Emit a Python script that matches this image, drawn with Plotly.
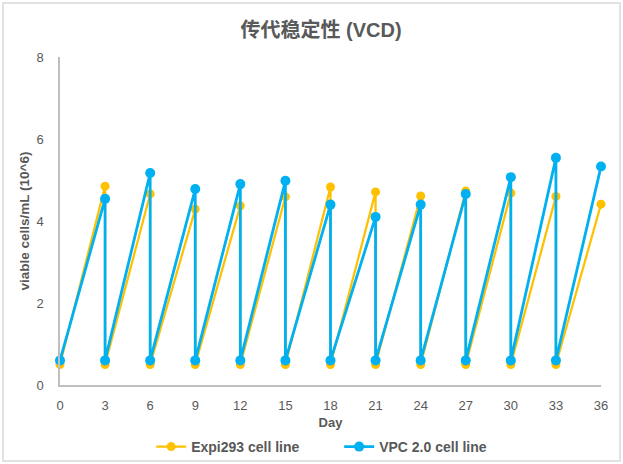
import plotly.graph_objects as go

days = [0, 3, 3, 6, 6, 9, 9, 12, 12, 15, 15, 18, 18, 21, 21, 24, 24, 27, 27, 30, 30, 33, 33, 36]
expi293 = [0.5, 4.85, 0.5, 4.66, 0.5, 4.29, 0.5, 4.37, 0.5, 4.59, 0.5, 4.83, 0.5, 4.71,
           0.5, 4.61, 0.5, 4.73, 0.5, 4.68, 0.5, 4.60, 0.5, 4.41]
vpc20 = [0.6, 4.54, 0.6, 5.17, 0.6, 4.78, 0.6, 4.90, 0.6, 4.98, 0.6, 4.40, 0.6, 4.10,
         0.6, 4.40, 0.6, 4.66, 0.6, 5.07, 0.6, 5.54, 0.6, 5.33]
x_ticks = [0, 3, 6, 9, 12, 15, 18, 21, 24, 27, 30, 33, 36]
y_ticks = [0, 2, 4, 6, 8]

FONT = "Liberation Sans, Arial, Noto Sans CJK SC, sans-serif"
GRAY = "#595959"

fig = go.Figure()
fig.add_trace(go.Scatter(x=days, y=expi293, name="<b>Expi293 cell line</b>", mode="lines+markers",
                         line=dict(color="#FFC000", width=2.25),
                         marker=dict(color="#FFC000", size=9), cliponaxis=False))
fig.add_trace(go.Scatter(x=days, y=vpc20, name="<b>VPC 2.0 cell line</b>", mode="lines+markers",
                         line=dict(color="#00B0F0", width=2.8),
                         marker=dict(color="#00B0F0", size=10), cliponaxis=False))

fig.update_layout(
    width=623, height=464,
    margin=dict(l=60, r=22, t=57, b=79, autoexpand=False),
    paper_bgcolor="white", plot_bgcolor="white",
    font=dict(family=FONT, color=GRAY, size=12),
    title=dict(text="<b>传代稳定性 (VCD)</b>", x=321/623, xanchor="center",
               xref="container", y=1 - 30/464, yref="container", yanchor="middle",
               font=dict(size=20, color=GRAY, family=FONT)),
    xaxis=dict(range=[0, 36], tickvals=x_ticks, showgrid=False, zeroline=False,
               showline=True, linecolor="#BFBFBF", linewidth=1.5, ticks="",
               ticklabelstandoff=8, automargin=False,
               title=dict(text="<b>Day</b>", standoff=6, font=dict(size=13, color=GRAY)),
               tickfont=dict(size=13, color=GRAY)),
    yaxis=dict(range=[0, 8], tickvals=y_ticks, showgrid=False, zeroline=False,
               showline=True, linecolor="#BFBFBF", linewidth=1.5, ticks="",
               ticklabelstandoff=12, automargin=False,
               title=dict(text="<b>viable cells/mL (10^6)</b>", standoff=4,
                          font=dict(size=13.5, color=GRAY)),
               tickfont=dict(size=13, color=GRAY)),
    legend=dict(orientation="h", x=0.516, xanchor="center", y=(385-447)/328,
                yanchor="middle", font=dict(size=14, color=GRAY), itemwidth=30,
                entrywidth=143, traceorder="normal", bgcolor="rgba(0,0,0,0)"),
    showlegend=True,
)
fig.add_shape(type="rect", xref="paper", yref="paper",
              x0=(3-60)/541, x1=(620-60)/541, y0=(385-461)/328, y1=(385-3)/328,
              line=dict(color="#D9D9D9", width=1.5), fillcolor="rgba(0,0,0,0)", layer="below")
fig.write_html("out.html", config={"displayModeBar": False},
               post_script="document.body.style.margin='0';document.body.style.overflow='hidden';")
